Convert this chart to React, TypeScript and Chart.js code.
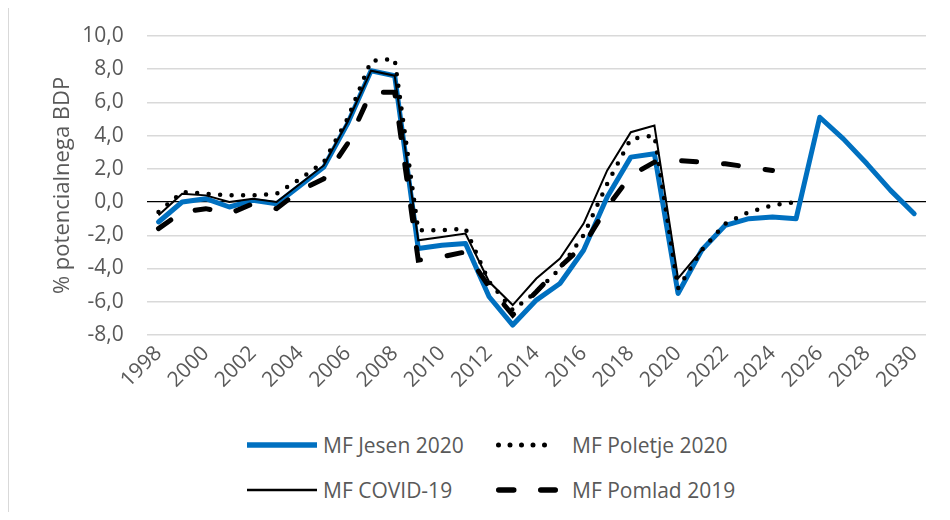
import React, { useEffect, useRef } from 'react';
import { Chart, registerables } from 'chart.js';

Chart.register(...registerables);

const years: string[] = [
  '1998', '1999', '2000', '2001', '2002', '2003', '2004', '2005', '2006', '2007', '2008',
  '2009', '2010', '2011', '2012', '2013', '2014', '2015', '2016', '2017', '2018', '2019',
  '2020', '2021', '2022', '2023', '2024', '2025', '2026', '2027', '2028', '2029', '2030',
];

const jesen2020: (number | null)[] = [
  -1.2, 0.0, 0.2, -0.3, 0.1, -0.1, 1.0, 2.1, 4.7, 7.9, 7.6,
  -2.8, -2.6, -2.5, -5.7, -7.4, -5.9, -4.9, -2.9, 0.3, 2.7, 2.9,
  -5.5, -2.9, -1.4, -1.0, -0.9, -1.0, 5.1, 3.8, 2.3, 0.7, -0.7,
];

const poletje2020: (number | null)[] = [
  -0.6, 0.6, 0.5, 0.4, 0.4, 0.5, 1.4, 2.4, 5.0, 8.5, 8.6,
  -1.7, -1.7, -1.6, -4.8, -6.5, -5.4, -4.0, -2.0, 1.1, 3.8, 4.0,
  -5.2, -2.9, -1.3, -0.6, -0.2, 0.0, null, null, null, null, null,
];

const covid19: (number | null)[] = [
  -0.8, 0.5, 0.4, 0.0, 0.2, 0.0, 1.1, 2.2, 4.8, 7.9, 7.6,
  -2.3, -2.1, -1.9, -4.8, -6.2, -4.6, -3.4, -1.3, 1.9, 4.2, 4.6,
  -4.6, -2.9, null, null, null, null, null, null, null, null, null,
];

const pomlad2019: (number | null)[] = [
  -1.6, -0.6, -0.4, -0.7, -0.1, -0.4, 0.7, 1.4, 3.5, 6.6, 6.6,
  -3.5, -3.3, -3.0, -5.1, -6.8, -5.4, -3.9, -2.6, -0.3, 1.6, 2.4,
  2.5, 2.4, 2.3, 2.1, 1.9, null, null, null, null, null, null,
];

const yAxisTitle = '% potencialnega BDP';
const seriesNames = ['MF Jesen 2020', 'MF Poletje 2020', 'MF COVID-19', 'MF Pomlad 2019'];

const FONT = '"Open Sans", "Noto Sans", sans-serif';
const FSIZE = 21;
const TEXT = '#595959';
const BLUE = '#0070C0';

export default function App() {
  const ref = useRef<HTMLCanvasElement | null>(null);

  useEffect(() => {
    if (!ref.current) return;
    const chart = new Chart(ref.current, {
      type: 'line',
      data: {
        labels: years,
        datasets: [
          {
            label: seriesNames[0],
            data: jesen2020,
            borderColor: BLUE,
            borderWidth: 5,
            pointRadius: 0,
            tension: 0,
            borderJoinStyle: 'round',
            borderCapStyle: 'round',
            order: 4,
          },
          {
            label: seriesNames[1],
            data: poletje2020,
            borderColor: '#000000',
            borderWidth: 4.5,
            borderDash: [0, 11.5],
            borderCapStyle: 'round',
            borderJoinStyle: 'round',
            pointRadius: 0,
            tension: 0,
            order: 3,
          },
          {
            label: seriesNames[2],
            data: covid19,
            borderColor: '#000000',
            borderWidth: 2,
            pointRadius: 0,
            tension: 0,
            order: 2,
          },
          {
            label: seriesNames[3],
            data: pomlad2019,
            borderColor: '#000000',
            borderWidth: 5,
            borderDash: [15, 27],
            borderCapStyle: 'round',
            pointRadius: 0,
            tension: 0,
            order: 1,
          },
        ],
      },
      options: {
        responsive: false,
        animation: false,
        spanGaps: false,
        layout: { padding: { left: 37, top: 27.8, right: 16, bottom: 0 } },
        plugins: {
          legend: { display: false },
          tooltip: { enabled: false },
        },
        scales: {
          x: {
            type: 'category',
            offset: true,
            grid: { display: false, drawTicks: false },
            border: { display: false },
            ticks: {
              autoSkip: false,
              maxRotation: 45,
              minRotation: 45,
              padding: 6,
              color: TEXT,
              font: { family: FONT, size: FSIZE },
              callback: (_v: any, i: number) => (i % 2 === 0 ? years[i] : ''),
            },
            afterFit: (s: any) => {
              s.height = 73;
            },
          },
          y: {
            min: -8,
            max: 10,
            grid: {
              drawTicks: false,
              lineWidth: (c: any) => (c.tick && c.tick.value === 0 ? 1.3 : 1.5),
              color: (c: any) => (c.tick && c.tick.value === 0 ? '#000000' : '#d9d9d9'),
            },
            border: { display: false },
            ticks: {
              stepSize: 2,
              padding: 23,
              color: TEXT,
              font: { family: FONT, size: FSIZE },
              callback: (v: any) => Number(v).toFixed(1).replace('.', ','),
            },
            title: {
              display: true,
              text: yAxisTitle,
              color: TEXT,
              font: { family: FONT, size: 22 },
              padding: { top: 4, bottom: 4 },
            },
            afterFit: (s: any) => {
              s.width = 100.7;
              s.paddingTop = 0;
              s.paddingBottom = 0;
            },
          },
        },
      },
    });
    return () => chart.destroy();
  }, []);

  const legendText: React.CSSProperties = {
    position: 'absolute',
    fontFamily: FONT,
    fontSize: FSIZE,
    color: TEXT,
    lineHeight: '26px',
    whiteSpace: 'nowrap',
  };

  const sample = (left: number, top: number, w: number, stroke: string, width: number, dash?: string) => (
    <svg style={{ position: 'absolute', left, top: top - 10, overflow: 'visible' }} width={w} height={20}>
      <line
        x1={dash ? width / 2 : 0}
        y1={10}
        x2={dash ? w - width / 2 : w}
        y2={10}
        stroke={stroke}
        strokeWidth={width}
        strokeDasharray={dash}
        strokeLinecap={dash ? 'round' : 'butt'}
      />
    </svg>
  );

  return (
    <div
      style={{
        position: 'relative',
        width: 934,
        height: 504,
        borderLeft: '1px solid #d9d9d9',
        boxSizing: 'border-box',
      }}
    >
      <canvas ref={ref} width={933} height={400} style={{ position: 'absolute', left: 0, top: 0 }} />
      {sample(238, 437, 70, BLUE, 5.5)}
      <div style={{ ...legendText, left: 314, top: 424 }}>{seriesNames[0]}</div>
      {sample(487, 437, 62, '#000', 5, '0 11.5')}
      <div style={{ ...legendText, left: 563, top: 424 }}>{seriesNames[1]}</div>
      {sample(238, 482, 70, '#000', 2.5)}
      <div style={{ ...legendText, left: 314, top: 469 }}>{seriesNames[2]}</div>
      {sample(487, 482, 62, '#000', 5.5, '15 27')}
      <div style={{ ...legendText, left: 563, top: 469 }}>{seriesNames[3]}</div>
    </div>
  );
}
